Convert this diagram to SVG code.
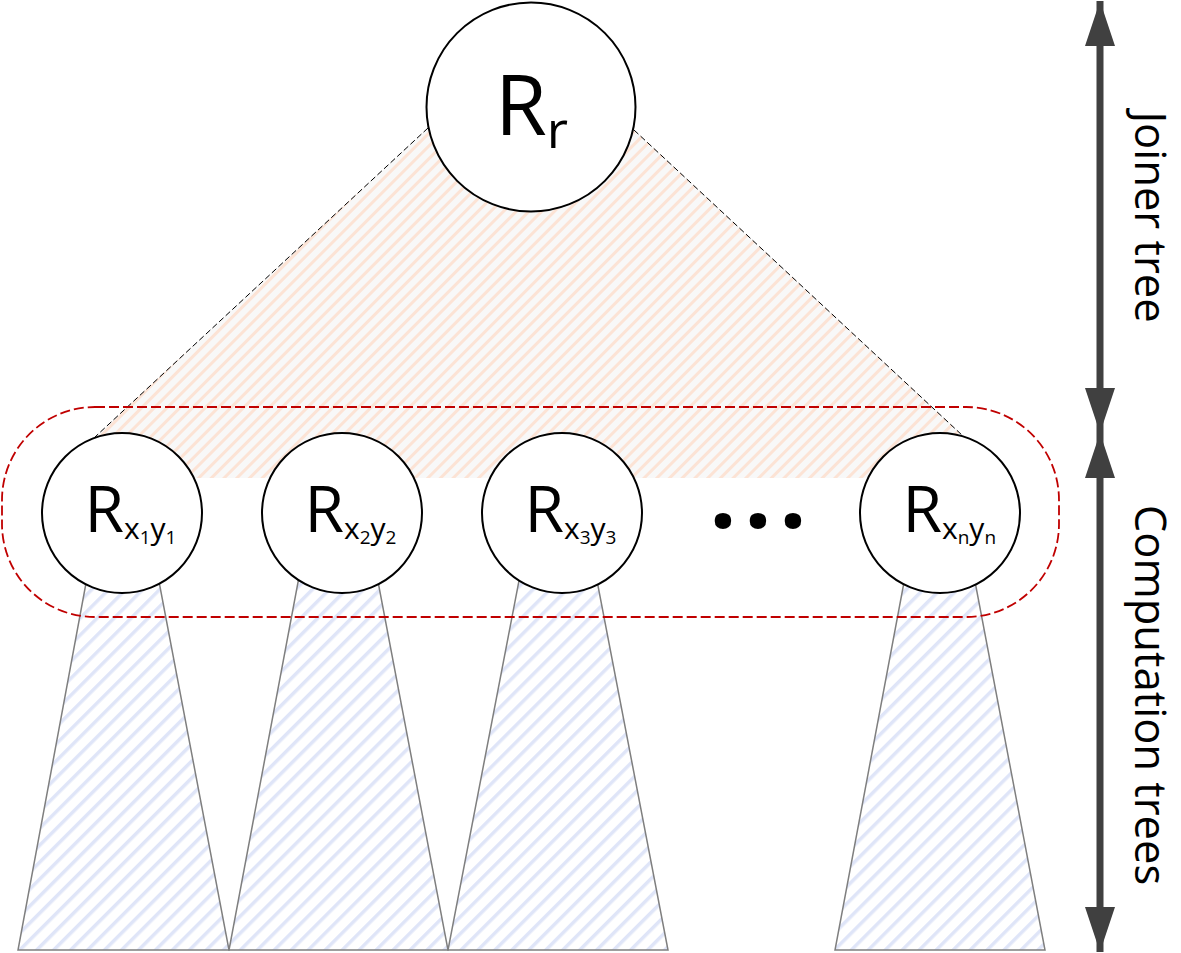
<svg xmlns="http://www.w3.org/2000/svg" width="1181" height="953" viewBox="0 0 1181 953">
  <style>
    .lbl { font-family: "Open Sans", "Noto Sans", "DejaVu Sans", sans-serif; fill: #000; }
    .node { fill: #fff; stroke: #000; stroke-width: 2; }
    .trap { fill: url(#blueHatch); stroke: #7f7f7f; stroke-width: 1.5; }
    .guide { stroke: #000; stroke-width: 1; stroke-dasharray: 6 3; fill: none; }
    .axis { stroke: #404040; stroke-width: 7; fill: none; marker-start: url(#head); marker-end: url(#head); }
  </style>
  <defs>
    <pattern id="orangeHatch" patternUnits="userSpaceOnUse" width="9" height="9" patternTransform="rotate(45)">
      <rect width="9" height="9" fill="#f8f8f8"/>
      <rect width="3" height="9" fill="#fce3d5"/>
    </pattern>
    <pattern id="blueHatch" patternUnits="userSpaceOnUse" width="12" height="12" patternTransform="rotate(45)">
      <rect width="12" height="12" fill="#ffffff"/>
      <rect width="3.5" height="12" fill="#dfe5f8"/>
    </pattern>
    <marker id="head" viewBox="0 0 45 30" refX="45" refY="15" markerWidth="45" markerHeight="30" markerUnits="userSpaceOnUse" orient="auto-start-reverse">
      <path d="M0,0 L45,15 L0,30 Z" fill="#404040"/>
    </marker>
  </defs>

  <g id="joiner-region">
    <polygon points="428,128 634,130 963,436 963,478 95,478 95,437" fill="url(#orangeHatch)"/>
  </g>

  <g id="computation-trees">
    <polygon class="trap" points="99,513 146,513 229,950 18,950"/>
    <polygon class="trap" points="311,513 365,513 448,950 229,950"/>
    <polygon class="trap" points="532,513 584,513 668,950 448,950"/>
    <polygon class="trap" points="917,513 962,513 1045,950 835,950"/>
  </g>

  <g id="connectors">
    <line class="guide" x1="428" y1="128" x2="95" y2="437"/>
    <line class="guide" x1="634" y1="130" x2="963" y2="436"/>
    <line class="axis" x1="1100" y1="1" x2="1100" y2="433"/>
    <line class="axis" x1="1100" y1="433" x2="1100" y2="952"/>
  </g>

  <g id="leaf-group">
    <rect x="2" y="407" width="1057" height="210" rx="93" ry="93" fill="none" stroke="#c00000" stroke-width="1.8" stroke-dasharray="10 4"/>
  </g>

  <g id="node-Rr">
    <circle class="node" cx="531" cy="107" r="104.5"/>
    <text class="lbl" x="495" y="135" font-size="84">R<tspan font-size="52" dy="13">r</tspan></text>
  </g>

  <g id="node-Rx1y1">
    <circle class="node" cx="122" cy="513" r="80"/>
    <text class="lbl" x="84.5" y="532" font-size="64">R<tspan font-size="30" dy="7">x</tspan><tspan font-size="19" dy="5">1</tspan><tspan font-size="30" dy="-5">y</tspan><tspan font-size="19" dy="5">1</tspan></text>
  </g>

  <g id="node-Rx2y2">
    <circle class="node" cx="342" cy="513" r="80"/>
    <text class="lbl" x="304.5" y="532" font-size="64">R<tspan font-size="30" dy="7">x</tspan><tspan font-size="19" dy="5">2</tspan><tspan font-size="30" dy="-5">y</tspan><tspan font-size="19" dy="5">2</tspan></text>
  </g>

  <g id="node-Rx3y3">
    <circle class="node" cx="562" cy="513" r="80"/>
    <text class="lbl" x="524.5" y="532" font-size="64">R<tspan font-size="30" dy="7">x</tspan><tspan font-size="19" dy="5">3</tspan><tspan font-size="30" dy="-5">y</tspan><tspan font-size="19" dy="5">3</tspan></text>
  </g>

  <g id="ellipsis">
    <text class="lbl" x="723 758 793" y="528" font-size="96" font-weight="bold" text-anchor="middle">...</text>
  </g>

  <g id="node-Rxnyn">
    <circle class="node" cx="940" cy="513" r="80"/>
    <text class="lbl" x="902.5" y="532" font-size="64">R<tspan font-size="30" dy="7">x</tspan><tspan font-size="19" dy="5">n</tspan><tspan font-size="30" dy="-5">y</tspan><tspan font-size="19" dy="5">n</tspan></text>
  </g>

  <g id="labels">
    <text class="lbl" transform="translate(1135,217) rotate(90)" font-size="43.5" text-anchor="middle">Joiner tree</text>
    <text class="lbl" transform="translate(1135,695) rotate(90)" font-size="43.5" text-anchor="middle">Computation trees</text>
  </g>
</svg>
